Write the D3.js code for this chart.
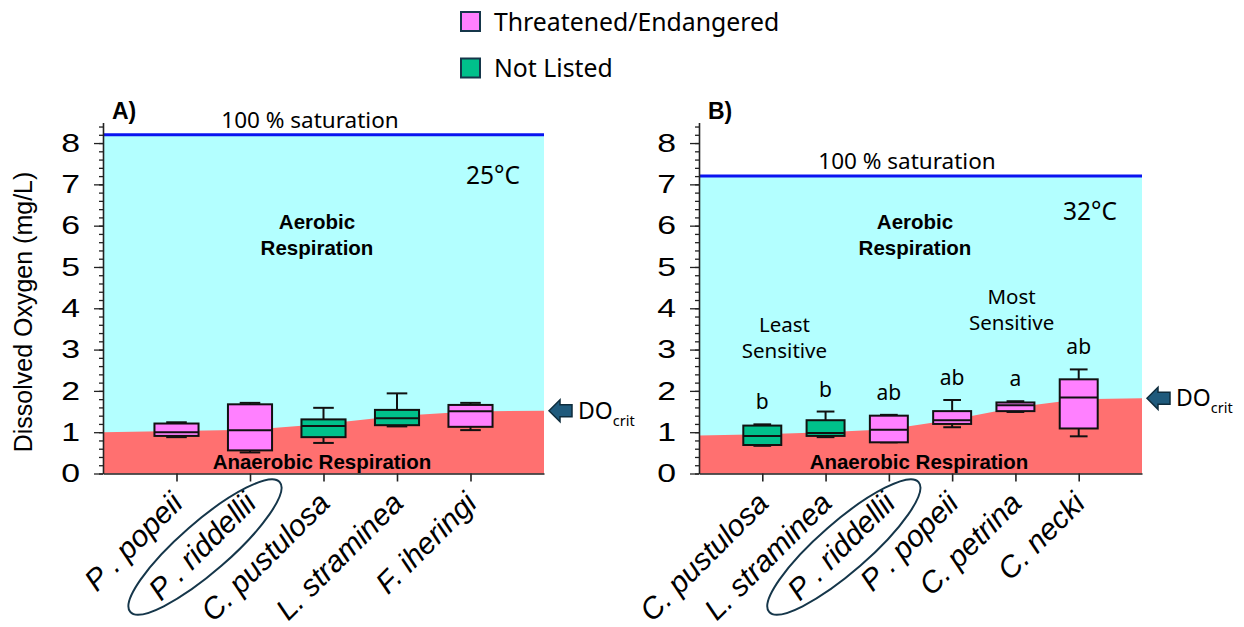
<!DOCTYPE html>
<html>
<head>
<meta charset="utf-8">
<script src="https://cdn.jsdelivr.net/npm/d3@7"></script>
<style>
  html, body { margin: 0; padding: 0; background: #ffffff; }
  svg { display: block; }
  text { font-family: "Liberation Sans", Arial, sans-serif; fill: #000; }
</style>
</head>
<body>
<svg id="chart" width="1244" height="627"></svg>
<script>
// ---------- Panel A (25 °C) ----------
const speciesA   = ["P . popeii", "P . riddellii", "C. pustulosa", "L. straminea", "F. iheringi"];
const statusA    = ["listed", "listed", "not", "not", "listed"];
const minA       = [0.88, 0.51, 0.74, 1.14, 1.05];
const q1A        = [0.91, 0.56, 0.88, 1.17, 1.13];
const medianA    = [1.00, 1.05, 1.15, 1.34, 1.51];
const q3A        = [1.21, 1.675, 1.31, 1.54, 1.66];
const maxA       = [1.24, 1.71, 1.59, 1.94, 1.71];
const docritA    = [1.00, 1.03, 1.06, 1.20, 1.39, 1.50, 1.52];   // boundary at x = 0..6
const saturationA = 8.2;

// ---------- Panel B (32 °C) ----------
const speciesB   = ["C. pustulosa", "L. straminea", "P . riddellii", "P . popeii", "C. petrina", "C. necki"];
const statusB    = ["not", "not", "listed", "listed", "listed", "listed"];
const minB       = [0.67, 0.88, 0.755, 1.12, 1.49, 0.90];
const q1B        = [0.69, 0.91, 0.755, 1.20, 1.51, 1.09];
const medianB    = [0.91, 0.98, 1.06, 1.29, 1.65, 1.84];
const q3B        = [1.16, 1.29, 1.40, 1.51, 1.72, 2.28];
const maxB       = [1.19, 1.50, 1.42, 1.78, 1.75, 2.52];
const lettersB   = ["b", "b", "ab", "ab", "a", "ab"];
const docritB    = [0.92, 0.95, 1.00, 1.07, 1.30, 1.60, 1.80, 1.82]; // boundary at x = 0..7
const saturationB = 7.2;

const yTicks = [0, 1, 2, 3, 4, 5, 6, 7, 8];
const legendLabels = ["Threatened/Endangered", "Not Listed"];
const yTitle = "Dissolved Oxygen (mg/L)";

const colors = {
  listed: "#ff80ff",
  not: "#00c08b",
  aerobic: "#b3ffff",
  anaerobic: "#ff7070",
  saturation: "#0a14f0",
  arrow: "#1f5a7c",
  outline: "#15364a"
};

const svg = d3.select("#chart");

// ---------- legend ----------
const legend = svg.append("g");
legendLabels.forEach((lab, i) => {
  const key = i === 0 ? "listed" : "not";
  legend.append("rect")
    .attr("x", 461).attr("y", 12 + i * 46.5)
    .attr("width", 19).attr("height", 19)
    .attr("fill", colors[key]).attr("stroke", colors.outline).attr("stroke-width", 2);
  legend.append("text")
    .attr("x", 494).attr("y", 30.5 + i * 46)
    .style("font-family", "'Noto Sans', 'Liberation Sans', sans-serif")
    .style("font-size", "24.8px")
    .text(lab);
});

// ---------- shared y-axis title ----------
svg.append("text")
  .attr("transform", "translate(32,312) rotate(-90)")
  .attr("text-anchor", "middle")
  .style("font-size", "25px")
  .text(yTitle);

function drawPanel(cfg) {
  const g = svg.append("g");
  const n = cfg.species.length;
  const x = d3.scaleLinear().domain([0, n + 1]).range([cfg.left, cfg.right]);
  const y = d3.scaleLinear().domain([0, 8.5]).range([473.5, 122.4]);

  // aerobic zone up to 100 % saturation
  g.append("rect")
    .attr("x", x(0)).attr("y", y(cfg.saturation))
    .attr("width", x(n + 1) - x(0)).attr("height", y(0) - y(cfg.saturation))
    .attr("fill", colors.aerobic);

  // anaerobic zone below DOcrit
  const area = d3.area()
    .x((d, i) => x(i))
    .y0(y(0))
    .y1(d => y(d));
  g.append("path").datum(cfg.docrit)
    .attr("d", area)
    .attr("fill", colors.anaerobic);

  // saturation line
  g.append("line")
    .attr("x1", x(0)).attr("x2", x(n + 1))
    .attr("y1", y(cfg.saturation)).attr("y2", y(cfg.saturation))
    .attr("stroke", colors.saturation).attr("stroke-width", 3);

  // box plots
  const boxW = x(0.6) - x(0);
  const capW = x(0.28) - x(0);
  d3.range(n).forEach(i => {
    const cx = x(i + 1);
    const bg = g.append("g").attr("stroke", "#111").attr("stroke-width", 2);
    // whiskers
    bg.append("line").attr("x1", cx).attr("x2", cx).attr("y1", y(cfg.max[i])).attr("y2", y(cfg.q3[i]));
    bg.append("line").attr("x1", cx).attr("x2", cx).attr("y1", y(cfg.q1[i])).attr("y2", y(cfg.min[i]));
    bg.append("line").attr("x1", cx - capW / 2).attr("x2", cx + capW / 2).attr("y1", y(cfg.max[i])).attr("y2", y(cfg.max[i]));
    bg.append("line").attr("x1", cx - capW / 2).attr("x2", cx + capW / 2).attr("y1", y(cfg.min[i])).attr("y2", y(cfg.min[i]));
    // box
    bg.append("rect")
      .attr("x", cx - boxW / 2).attr("y", y(cfg.q3[i]))
      .attr("width", boxW).attr("height", y(cfg.q1[i]) - y(cfg.q3[i]))
      .attr("fill", colors[cfg.status[i]]);
    bg.append("line").attr("x1", cx - boxW / 2).attr("x2", cx + boxW / 2)
      .attr("y1", y(cfg.median[i])).attr("y2", y(cfg.median[i]));
    if (cfg.letters) {
      g.append("text")
        .attr("x", cx).attr("y", y(cfg.max[i]) - 23)
        .attr("text-anchor", "middle").attr("dominant-baseline", "central")
        .style("font-family", "'Noto Sans', 'Liberation Sans', sans-serif")
        .style("font-size", "21px")
        .text(cfg.letters[i]);
    }
  });

  // y axis: minor then major ticks
  const minor = g.append("g").attr("transform", `translate(${x(0)},0)`)
    .call(d3.axisLeft(y).tickValues(d3.range(0, 8.5, 0.2)).tickSize(4).tickFormat(""));
  minor.select(".domain").remove();
  const yAxis = g.append("g").attr("transform", `translate(${x(0)},0)`)
    .call(d3.axisLeft(y).tickValues(yTicks).tickSize(9).tickSizeOuter(0).tickPadding(13));
  // wide numerals
  yAxis.selectAll(".tick text")
    .style("font-size", "26px")
    .attr("x", -23 / 1.3)
    .attr("transform", "scale(1.3,1)");
  g.selectAll(".domain, .tick line").attr("stroke", "#222").attr("stroke-width", 1.3);
  yAxis.select(".domain").attr("stroke-width", 1.6);

  // x axis
  const xAxis = g.append("g").attr("transform", `translate(0,${y(0)})`)
    .call(d3.axisBottom(x).tickValues(d3.range(1, n + 1)).tickSize(8).tickSizeOuter(0).tickFormat(""));
  xAxis.selectAll(".domain, .tick line").attr("stroke", "#222").attr("stroke-width", 1.6);

  // rotated species names
  cfg.species.forEach((s, i) => {
    g.append("text")
      .attr("transform", `translate(${x(i + 1) + 8},505) rotate(-45)`)
      .attr("text-anchor", "end")
      .style("font-size", "30px").style("font-style", "italic")
      .text(s);
  });

  // circled species
  const ci = cfg.species.indexOf("P . riddellii");
  g.append("ellipse")
    .attr("transform", `translate(${x(ci + 1) - 45},547) rotate(-41)`)
    .attr("rx", 99).attr("ry", 25)
    .attr("fill", "none").attr("stroke", colors.outline).attr("stroke-width", 2);

  // annotations
  g.append("text").attr("x", cfg.left + 9).attr("y", 119)
    .style("font-size", "23px").style("font-weight", "bold").text(cfg.tag);
  g.append("text").attr("x", cfg.satX).attr("y", y(cfg.saturation) - 7)
    .attr("text-anchor", "middle")
    .style("font-family", "'Noto Sans', 'Liberation Sans', sans-serif")
    .style("font-size", "22.5px").text("100 % saturation");
  g.append("text").attr("x", cfg.tempX).attr("y", cfg.tempY)
    .attr("text-anchor", "middle")
    .style("font-family", "'Noto Sans', 'Liberation Sans', sans-serif")
    .style("font-size", "24.5px").text(cfg.temp);
  const aer = g.append("text").attr("text-anchor", "middle")
    .style("font-size", "20.5px").style("font-weight", "bold");
  aer.append("tspan").attr("x", cfg.aerX).attr("y", 229).text("Aerobic");
  aer.append("tspan").attr("x", cfg.aerX).attr("y", 255).text("Respiration");
  g.append("text").attr("x", cfg.anaerX).attr("y", 469)
    .attr("text-anchor", "middle")
    .style("font-size", "20.5px").style("font-weight", "bold")
    .text("Anaerobic Respiration");

  // DOcrit marker at the right edge
  const ay = y(cfg.docrit[cfg.docrit.length - 1]);
  const ax = x(n + 1) + 5;
  g.append("path")
    .attr("d", `M${ax},${ay} L${ax + 11},${ay - 11} L${ax + 11},${ay - 6} L${ax + 23},${ay - 6} L${ax + 23},${ay + 6} L${ax + 11},${ay + 6} L${ax + 11},${ay + 11} Z`)
    .attr("fill", colors.arrow).attr("stroke", "#0e2c3d").attr("stroke-width", 1.5);
  const dt = g.append("text").attr("x", ax + 29).attr("y", ay + 8)
    .style("font-family", "'Noto Sans', 'Liberation Sans', sans-serif")
    .style("font-size", "23px");
  dt.append("tspan").text("DO");
  dt.append("tspan").attr("dy", 7).style("font-size", "14.5px").text("crit");

  return { g, x, y };
}

drawPanel({
  tag: "A)", left: 103, right: 544,
  species: speciesA, status: statusA,
  min: minA, q1: q1A, median: medianA, q3: q3A, max: maxA,
  docrit: docritA, saturation: saturationA,
  satX: 310, temp: "25°C", tempX: 493, tempY: 184,
  aerX: 317, anaerX: 322
});

const pb = drawPanel({
  tag: "B)", left: 699, right: 1142,
  species: speciesB, status: statusB,
  min: minB, q1: q1B, median: medianB, q3: q3B, max: maxB,
  letters: lettersB,
  docrit: docritB, saturation: saturationB,
  satX: 907, temp: "32°C", tempX: 1090, tempY: 220,
  aerX: 915, anaerX: 919
});

// sensitivity notes in panel B
const notes = [
  { x: 1.35, lines: ["Least", "Sensitive"], y0: 332 },
  { x: 4.94, lines: ["Most", "Sensitive"], y0: 304 }
];
notes.forEach(nt => {
  const t = pb.g.append("text").attr("text-anchor", "middle")
    .style("font-family", "'Noto Sans', 'Liberation Sans', sans-serif")
    .style("font-size", "20.5px");
  nt.lines.forEach((l, k) => t.append("tspan").attr("x", pb.x(nt.x)).attr("y", nt.y0 + k * 26).text(l));
});
</script>
</body>
</html>
